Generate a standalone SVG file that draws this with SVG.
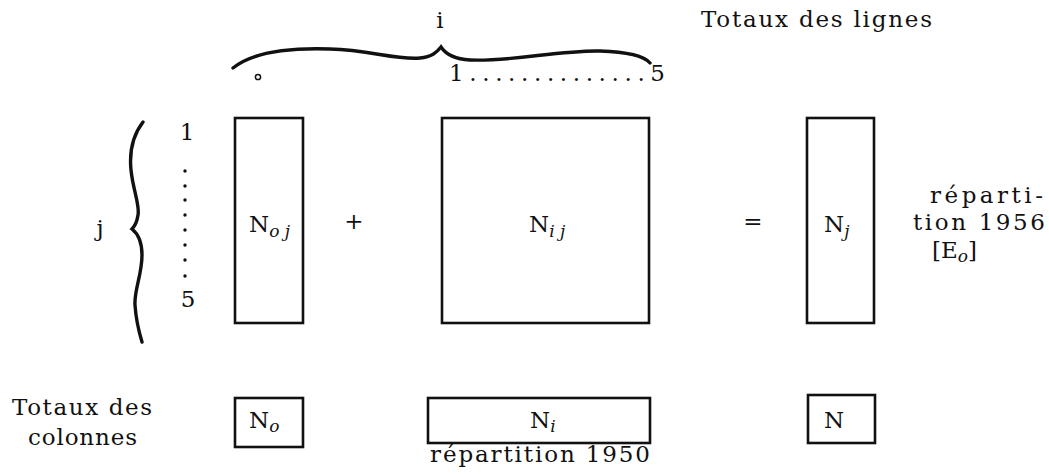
<svg xmlns="http://www.w3.org/2000/svg" width="1049" height="474" viewBox="0 0 1049 474">
<style>
text{font-family:"DejaVu Serif","Liberation Serif",serif;font-size:23px;fill:#111}
.sub{font-size:17px;font-style:italic}
.box{fill:none;stroke:#111;stroke-width:2.6}
.brace{fill:none;stroke:#111;stroke-width:3.4;stroke-linecap:round}
</style>
<rect width="1049" height="474" fill="#fff"/>
<g id="connectors">
<path class="brace" d="M233,68 C255,50 300,48 330,49 C370,50 395,60 420,58 C432,57 437,52 441,47 C445,53 452,59 470,60 C510,62 560,50 600,51 C630,52 645,57 650,63"/>
<path class="brace" d="M143,122 C133,135 129,150 131,170 C133,190 140,205 138,215 C137,222 134,227 132,229 C137,233 142,240 142,255 C142,275 134,290 135,305 C136,320 139,332 142,342"/>
</g>
<g id="header">
<text x="440" y="28" text-anchor="middle">i</text>
<text x="701" y="27" textLength="231" lengthAdjust="spacing">Totaux des lignes</text>
<circle cx="258" cy="77" r="2.6" fill="none" stroke="#111" stroke-width="1.5"/>
<text x="449" y="81" textLength="216" lengthAdjust="spacing">1..............5</text>
</g>
<g id="rowindex">
<text x="100" y="236" text-anchor="middle">j</text>
<text x="187" y="140" text-anchor="middle">1</text>
<g fill="#111">
<circle cx="185" cy="171" r="1.7"/><circle cx="185" cy="186" r="1.7"/><circle cx="185" cy="200" r="1.7"/><circle cx="185" cy="215" r="1.7"/><circle cx="185" cy="230" r="1.7"/><circle cx="185" cy="245" r="1.7"/><circle cx="185" cy="260" r="1.7"/><circle cx="185" cy="276" r="1.7"/>
</g>
<text x="188" y="307" text-anchor="middle">5</text>
</g>
<g id="node-Noj">
<rect class="box" x="235" y="118" width="68" height="205"/>
<text x="249" y="232">N<tspan class="sub" dy="5">o j</tspan></text>
</g>
<text id="plus" x="354" y="229" text-anchor="middle">+</text>
<g id="node-Nij">
<rect class="box" x="442" y="118" width="207" height="205"/>
<text x="529" y="232">N<tspan class="sub" dy="5">i j</tspan></text>
</g>
<text id="equals" x="753" y="229" text-anchor="middle">=</text>
<g id="node-Nj">
<rect class="box" x="807" y="118" width="67" height="205"/>
<text x="824" y="232">N<tspan class="sub" dy="5">j</tspan></text>
</g>
<g id="label-1956">
<text x="930" y="203" textLength="113" lengthAdjust="spacing">réparti-</text>
<text x="913" y="230" textLength="132" lengthAdjust="spacing">tion 1956</text>
<text x="932" y="258">[E<tspan class="sub" dy="4">o</tspan><tspan dy="-4">]</tspan></text>
</g>
<g id="label-colonnes">
<text x="12" y="415" textLength="140" lengthAdjust="spacing">Totaux des</text>
<text x="28" y="445" textLength="109" lengthAdjust="spacing">colonnes</text>
</g>
<g id="node-No">
<rect class="box" x="235" y="398" width="68" height="49"/>
<text x="249" y="428">N<tspan class="sub" dy="4">o</tspan></text>
</g>
<g id="node-Ni">
<rect class="box" x="428" y="398" width="222" height="45"/>
<text x="530" y="428">N<tspan class="sub" dy="4">i</tspan></text>
<text x="430" y="462" textLength="220" lengthAdjust="spacing">répartition 1950</text>
</g>
<g id="node-N">
<rect class="box" x="808" y="395" width="67" height="48"/>
<text x="824" y="428">N</text>
</g>
</svg>
